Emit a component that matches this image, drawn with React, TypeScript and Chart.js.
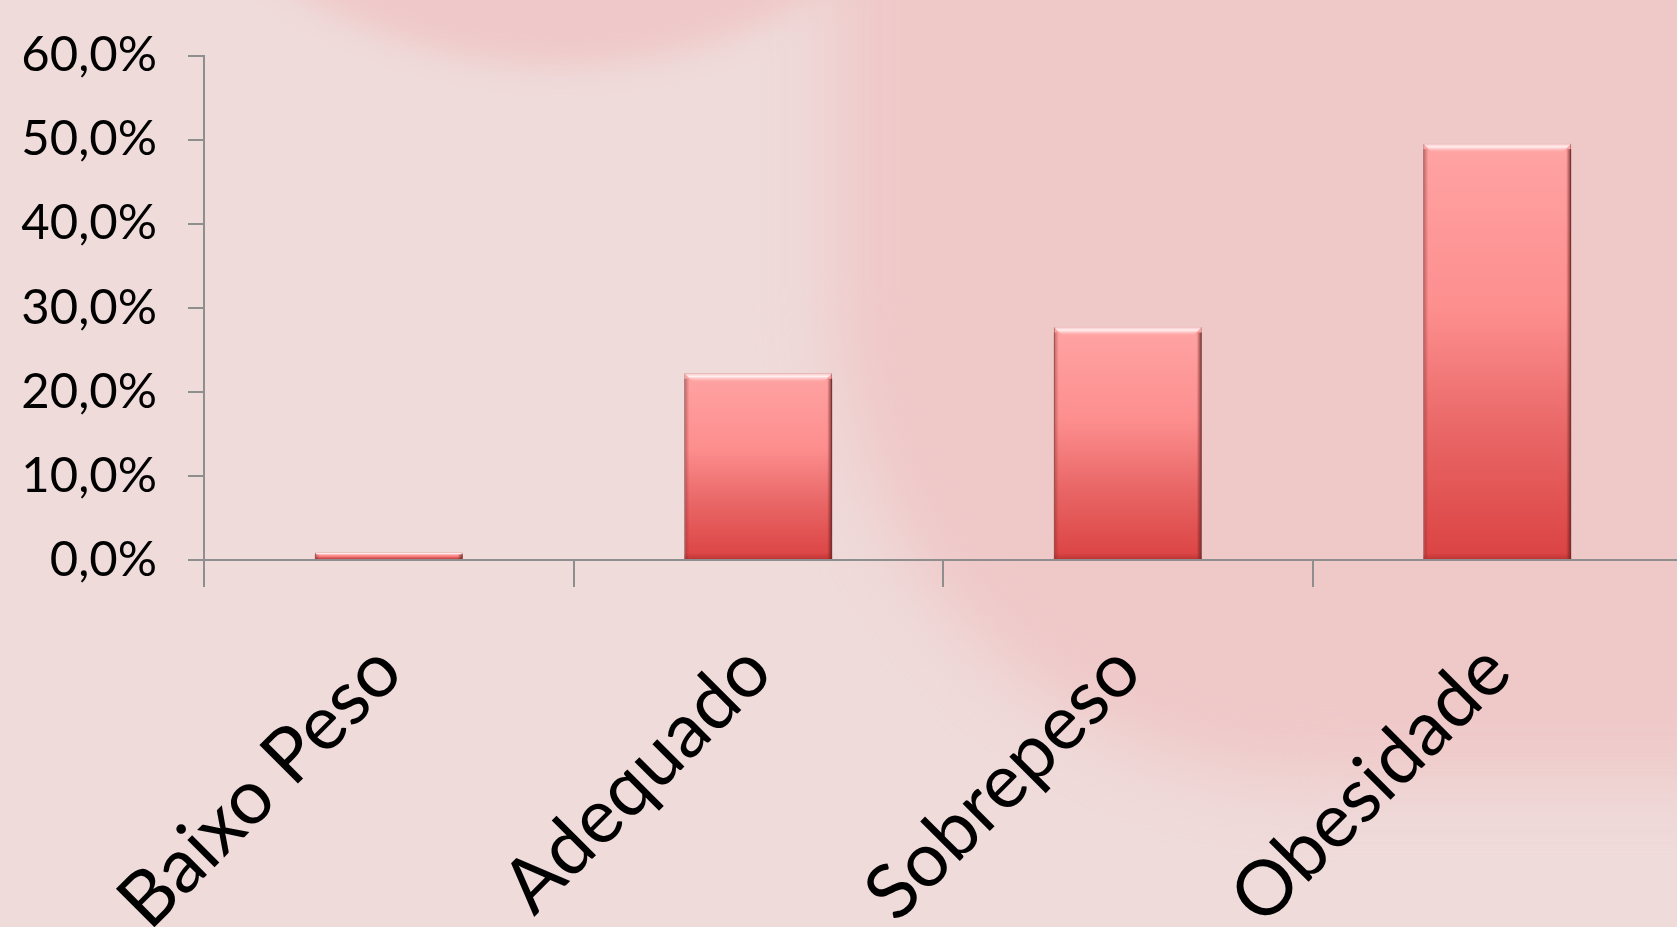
import React, { useEffect, useRef } from "react";
import { Chart, registerables } from "chart.js";

Chart.register(...registerables);

// ---- data ----
const categories: string[] = ["Baixo Peso", "Adequado", "Sobrepeso", "Obesidade"];
const percentValues: number[] = [0.9, 22.2, 27.7, 49.5];
const yTickValues: number[] = [0, 10, 20, 30, 40, 50, 60];

const formatTick = (v: number) => v.toFixed(1).replace(".", ",") + "%";

const W = 1682;
const H = 927;
const AXIS_COLOR = "#8E8E8E";

const backgroundPlugin = {
  id: "slideBackground",
  beforeDraw(chart: any) {
    const ctx = chart.ctx as CanvasRenderingContext2D;
    ctx.save();
    ctx.fillStyle = "#EFDBDA";
    ctx.fillRect(0, 0, chart.width, chart.height);
    // big soft shape on the right
    ctx.filter = "blur(34px)";
    ctx.fillStyle = "#EFC8C8";
    ctx.beginPath();
    (ctx as any).roundRect(835, -700, 1600, 1480, 480);
    ctx.fill();
    // top circle
    ctx.filter = "blur(14px)";
    ctx.fillStyle = "#EFC9C9";
    ctx.beginPath();
    ctx.arc(561, -444, 510, 0, Math.PI * 2);
    ctx.fill();
    ctx.restore();
  },
};

const bevelPlugin = {
  id: "barBevel",
  afterDatasetsDraw(chart: any) {
    const ctx = chart.ctx as CanvasRenderingContext2D;
    const meta = chart.getDatasetMeta(0);
    meta.data.forEach((el: any) => {
      const { x, y, base, width } = el.getProps(["x", "y", "base", "width"], true);
      const left = x - width / 2;
      const right = x + width / 2;
      const top = Math.min(y, base);
      const bottom = Math.max(y, base);
      const h = bottom - top;
      if (h <= 0) return;
      const b = Math.min(9, h / 2);
      ctx.save();
      // top bevel highlight
      const tg = ctx.createLinearGradient(0, top, 0, top + b);
      tg.addColorStop(0, "rgba(250,200,200,0.9)");
      tg.addColorStop(0.35, "rgba(255,245,245,0.95)");
      tg.addColorStop(1, "rgba(255,170,170,0)");
      ctx.fillStyle = tg;
      ctx.beginPath();
      ctx.moveTo(left, top);
      ctx.lineTo(right, top);
      ctx.lineTo(right - b, top + b);
      ctx.lineTo(left + b, top + b);
      ctx.closePath();
      ctx.fill();
      // right dark edge
      const rg = ctx.createLinearGradient(right - 5, 0, right, 0);
      rg.addColorStop(0, "rgba(110,30,30,0)");
      rg.addColorStop(1, "rgba(90,20,20,0.8)");
      ctx.fillStyle = rg;
      ctx.fillRect(right - 5, top + b * 0.6, 5, h - b * 0.6);
      // left subtle edge
      const lg = ctx.createLinearGradient(left, 0, left + 5, 0);
      lg.addColorStop(0, "rgba(130,40,40,0.5)");
      lg.addColorStop(1, "rgba(130,40,40,0)");
      ctx.fillStyle = lg;
      ctx.fillRect(left, top + b * 0.6, 5, h - b * 0.6);
      // bottom dark edge
      const bb = Math.min(6, h / 3);
      const bg = ctx.createLinearGradient(0, bottom - bb, 0, bottom);
      bg.addColorStop(0, "rgba(140,30,30,0)");
      bg.addColorStop(1, "rgba(140,30,30,0.35)");
      ctx.fillStyle = bg;
      ctx.fillRect(left, bottom - bb, width, bb);
      ctx.restore();
    });
  },
};

export default function App() {
  const ref = useRef<HTMLCanvasElement>(null);

  useEffect(() => {
    if (!ref.current) return;
    const chart = new Chart(ref.current, {
      type: "bar",
      data: {
        labels: categories,
        datasets: [
          {
            data: percentValues,
            backgroundColor: (c: any) => {
              const ch = c.chart;
              if (!ch.chartArea || c.type !== "data" || !ch.scales.y) return "#F08080";
              const ys = ch.scales.y;
              const t = ys.getPixelForValue(c.raw);
              const bt = ys.getPixelForValue(0);
              if (bt - t < 1) return "#F08080";
              const g = ch.ctx.createLinearGradient(0, t, 0, bt);
              g.addColorStop(0, "#FFA3A3");
              g.addColorStop(0.4, "#FD8E8E");
              g.addColorStop(0.68, "#EA6868");
              g.addColorStop(1, "#DB4242");
              return g;
            },
            borderColor: "rgba(130,50,50,0.7)",
            borderWidth: 1,
            categoryPercentage: 1,
            barPercentage: 0.4,
          },
        ],
      },
      options: {
        responsive: false,
        animation: false,
        devicePixelRatio: 1,
        layout: { padding: { top: 55.5, left: 0, right: 0, bottom: 0 } },
        plugins: {
          legend: { display: false },
          tooltip: { enabled: false },
          title: { display: false },
        },
        scales: {
          x: {
            grid: {
              offset: true,
              drawOnChartArea: false,
              drawTicks: true,
              tickLength: 27,
              color: AXIS_COLOR,
              lineWidth: 2,
            },
            border: { display: true, color: AXIS_COLOR, width: 2 },
            ticks: {
              font: { family: "Lato", size: 76 },
              color: "#000",
              minRotation: 45,
              maxRotation: 45,
              autoSkip: false,
              padding: 39,
            },
            afterFit: (s: any) => {
              s.height = H - 560;
            },
          },
          y: {
            min: 0,
            max: 60,
            grid: {
              drawOnChartArea: false,
              drawTicks: true,
              tickLength: 16,
              color: AXIS_COLOR,
              lineWidth: 2,
            },
            border: { display: true, color: AXIS_COLOR, width: 2 },
            ticks: {
              font: { family: "Lato", size: 49 },
              color: "#000",
              padding: 31,
              callback: (v: any) => formatTick(Number(v)),
            },
            afterBuildTicks: (s: any) => {
              s.ticks = yTickValues.map((v) => ({ value: v }));
            },
            afterFit: (s: any) => {
              s.width = 204;
              s.paddingTop = 0;
              s.paddingBottom = 0;
            },
          },
        },
      },
      plugins: [backgroundPlugin, bevelPlugin],
    });
    return () => chart.destroy();
  }, []);

  return (
    <div
      style={{
        position: "fixed",
        left: 0,
        top: 0,
        width: 1677,
        height: 927,
        overflow: "hidden",
      }}
    >
      <canvas ref={ref} width={W} height={H} style={{ display: "block", width: W, height: H }} />
    </div>
  );
}
